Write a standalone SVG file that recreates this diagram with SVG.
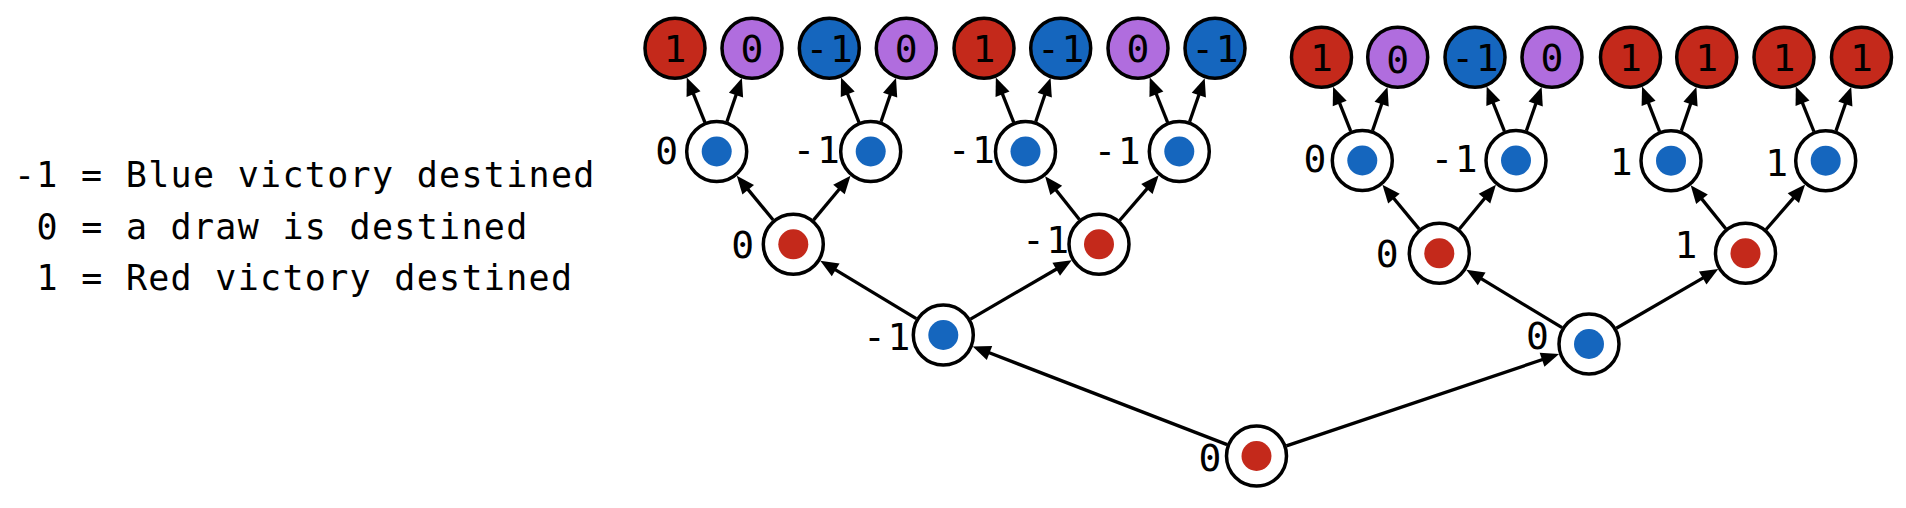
<svg xmlns="http://www.w3.org/2000/svg" width="1906" height="508" viewBox="0 0 1906 508">
<defs>
<style>
.bg{fill:#ffffff}
.ring{fill:#ffffff;stroke:#000000;stroke-width:3.5}
.leaf{stroke:#000000;stroke-width:3.5}
.r{fill:#C4291B}
.b{fill:#1566BE}
.p{fill:#B06DDE}
.t{font-family:"DejaVu Sans Mono","Liberation Mono",monospace;font-size:38px;fill:#000000;text-anchor:middle}
.t2{letter-spacing:1.5px}
.leg{font-family:"DejaVu Sans Mono","Liberation Mono",monospace;font-size:35px;fill:#000000;letter-spacing:1.3px}
.edge{stroke:#000000;stroke-width:3.3;fill:none;marker-end:url(#ah)}
</style>
<marker id="ah" markerUnits="userSpaceOnUse" markerWidth="20" markerHeight="18" viewBox="-4 -9 20 18" refX="0" refY="0" orient="auto">
<path d="M-3,-7.5 L15,0 L-3,7.5 z" fill="#000000"/>
</marker>
</defs>
<rect class="bg" x="0" y="0" width="1906" height="508"/>

<g id="legend">
<text class="leg" x="14" y="187">-1 = Blue victory destined</text>
<text class="leg" x="36.4" y="238.5">0 = a draw is destined</text>
<text class="leg" x="36.4" y="289.5">1 = Red victory destined</text>
</g>

<g id="connectors">
<line class="edge" x1="1227.1" y1="444.6" x2="986.7" y2="351.8"/>
<line class="edge" x1="1286.4" y1="445.9" x2="1544.9" y2="358.8"/>
<line class="edge" x1="916.3" y1="318.7" x2="833.1" y2="268.4"/>
<line class="edge" x1="970.5" y1="319.1" x2="1058.8" y2="267.7"/>
<line class="edge" x1="1562.1" y1="327.7" x2="1479.1" y2="277.4"/>
<line class="edge" x1="1616.3" y1="328.2" x2="1705.3" y2="276.6"/>
<line class="edge" x1="773.2" y1="220.0" x2="746.3" y2="187.4"/>
<line class="edge" x1="813.5" y1="220.1" x2="840.9" y2="187.2"/>
<line class="edge" x1="1079.4" y1="219.6" x2="1054.4" y2="188.0"/>
<line class="edge" x1="1119.6" y1="220.5" x2="1148.9" y2="186.7"/>
<line class="edge" x1="1419.2" y1="229.1" x2="1392.0" y2="196.3"/>
<line class="edge" x1="1459.4" y1="229.0" x2="1486.4" y2="196.3"/>
<line class="edge" x1="1725.8" y1="228.8" x2="1700.1" y2="196.9"/>
<line class="edge" x1="1766.1" y1="229.5" x2="1795.3" y2="195.9"/>
<line class="edge" x1="704.9" y1="122.3" x2="692.4" y2="91.4"/>
<line class="edge" x1="726.9" y1="121.7" x2="737.0" y2="92.3"/>
<line class="edge" x1="859.0" y1="122.3" x2="846.6" y2="91.5"/>
<line class="edge" x1="881.0" y1="121.7" x2="891.1" y2="92.3"/>
<line class="edge" x1="1013.7" y1="122.3" x2="1001.4" y2="91.4"/>
<line class="edge" x1="1035.7" y1="121.7" x2="1045.7" y2="92.3"/>
<line class="edge" x1="1167.6" y1="122.3" x2="1155.3" y2="91.5"/>
<line class="edge" x1="1189.6" y1="121.7" x2="1199.8" y2="92.3"/>
<line class="edge" x1="1350.7" y1="131.2" x2="1338.6" y2="100.6"/>
<line class="edge" x1="1372.5" y1="130.7" x2="1382.6" y2="101.3"/>
<line class="edge" x1="1504.4" y1="131.2" x2="1492.2" y2="100.5"/>
<line class="edge" x1="1526.4" y1="130.8" x2="1536.7" y2="101.2"/>
<line class="edge" x1="1659.5" y1="131.4" x2="1647.5" y2="100.6"/>
<line class="edge" x1="1681.3" y1="130.9" x2="1691.5" y2="101.3"/>
<line class="edge" x1="1813.9" y1="131.5" x2="1801.4" y2="100.4"/>
<line class="edge" x1="1836.0" y1="130.9" x2="1846.3" y2="101.2"/>
</g>

<g id="root"><circle class="ring" cx="1256.5" cy="456" r="30"/><circle class="r" cx="1256.5" cy="456" r="15"/><text class="t" x="1210" y="471">0</text></g>
<g id="n-L"><circle class="ring" cx="943.3" cy="335" r="30"/><circle class="b" cx="943.3" cy="335" r="15"/><text class="t t2" x="887.5" y="350">-1</text></g>
<g id="n-R"><circle class="ring" cx="1589" cy="344" r="30"/><circle class="b" cx="1589" cy="344" r="15"/><text class="t" x="1537.5" y="349">0</text></g>
<g id="n-LL"><circle class="ring" cx="793.3" cy="244.3" r="30"/><circle class="r" cx="793.3" cy="244.3" r="15"/><text class="t" x="742.7" y="257.5">0</text></g>
<g id="n-LR"><circle class="ring" cx="1099" cy="244.3" r="30"/><circle class="r" cx="1099" cy="244.3" r="15"/><text class="t t2" x="1046.3" y="252.5">-1</text></g>
<g id="n-RL"><circle class="ring" cx="1439.3" cy="253.3" r="30"/><circle class="r" cx="1439.3" cy="253.3" r="15"/><text class="t" x="1387.3" y="266.8">0</text></g>
<g id="n-RR"><circle class="ring" cx="1745.5" cy="253.3" r="30"/><circle class="r" cx="1745.5" cy="253.3" r="15"/><text class="t" x="1686" y="257.5">1</text></g>

<g id="n-LLL"><circle class="ring" cx="716.7" cy="151.5" r="30"/><circle class="b" cx="716.7" cy="151.5" r="15"/><text class="t" x="666.7" y="163.5">0</text></g>
<g id="n-LLR"><circle class="ring" cx="870.7" cy="151.5" r="30"/><circle class="b" cx="870.7" cy="151.5" r="15"/><text class="t t2" x="817" y="162.5">-1</text></g>
<g id="n-LRL"><circle class="ring" cx="1025.5" cy="151.5" r="30"/><circle class="b" cx="1025.5" cy="151.5" r="15"/><text class="t t2" x="972.1" y="162.5">-1</text></g>
<g id="n-LRR"><circle class="ring" cx="1179.3" cy="151.5" r="30"/><circle class="b" cx="1179.3" cy="151.5" r="15"/><text class="t t2" x="1117.8" y="163.5">-1</text></g>
<g id="n-RLL"><circle class="ring" cx="1362.3" cy="160.5" r="30"/><circle class="b" cx="1362.3" cy="160.5" r="15"/><text class="t" x="1315" y="171.5">0</text></g>
<g id="n-RLR"><circle class="ring" cx="1516" cy="160.5" r="30"/><circle class="b" cx="1516" cy="160.5" r="15"/><text class="t t2" x="1454.8" y="172.2">-1</text></g>
<g id="n-RRL"><circle class="ring" cx="1671" cy="160.7" r="30"/><circle class="b" cx="1671" cy="160.7" r="15"/><text class="t" x="1621.2" y="175.2">1</text></g>
<g id="n-RRR"><circle class="ring" cx="1825.7" cy="160.7" r="30"/><circle class="b" cx="1825.7" cy="160.7" r="15"/><text class="t" x="1776.7" y="175.5">1</text></g>

<g id="leaf-1"><circle class="leaf r" cx="675" cy="48.3" r="30"/><text class="t" x="675" y="62">1</text></g>
<g id="leaf-2"><circle class="leaf p" cx="752" cy="48.3" r="30"/><text class="t" x="752" y="62">0</text></g>
<g id="leaf-3"><circle class="leaf b" cx="829.3" cy="48.3" r="30"/><text class="t t2" x="830" y="62">-1</text></g>
<g id="leaf-4"><circle class="leaf p" cx="906.3" cy="48.3" r="30"/><text class="t" x="906.3" y="62">0</text></g>
<g id="leaf-5"><circle class="leaf r" cx="984" cy="48.3" r="30"/><text class="t" x="984" y="62">1</text></g>
<g id="leaf-6"><circle class="leaf b" cx="1060.7" cy="48.3" r="30"/><text class="t t2" x="1061.4" y="62">-1</text></g>
<g id="leaf-7"><circle class="leaf p" cx="1138" cy="48.3" r="30"/><text class="t" x="1138" y="62">0</text></g>
<g id="leaf-8"><circle class="leaf b" cx="1215" cy="48.3" r="30"/><text class="t t2" x="1215.7" y="62">-1</text></g>
<g id="leaf-9"><circle class="leaf r" cx="1321.5" cy="57.3" r="30"/><text class="t" x="1321.5" y="71">1</text></g>
<g id="leaf-10"><circle class="leaf p" cx="1397.7" cy="57.3" r="30"/><text class="t" x="1397.7" y="73">0</text></g>
<g id="leaf-11"><circle class="leaf b" cx="1475" cy="57.3" r="30"/><text class="t t2" x="1475.7" y="71">-1</text></g>
<g id="leaf-12"><circle class="leaf p" cx="1552" cy="57.3" r="30"/><text class="t" x="1552" y="71">0</text></g>
<g id="leaf-13"><circle class="leaf r" cx="1630.5" cy="57.3" r="30"/><text class="t" x="1630.5" y="71">1</text></g>
<g id="leaf-14"><circle class="leaf r" cx="1706.7" cy="57.3" r="30"/><text class="t" x="1706.7" y="71">1</text></g>
<g id="leaf-15"><circle class="leaf r" cx="1784" cy="57.3" r="30"/><text class="t" x="1784" y="71">1</text></g>
<g id="leaf-16"><circle class="leaf r" cx="1861.5" cy="57.3" r="30"/><text class="t" x="1861.5" y="71">1</text></g>
</svg>
